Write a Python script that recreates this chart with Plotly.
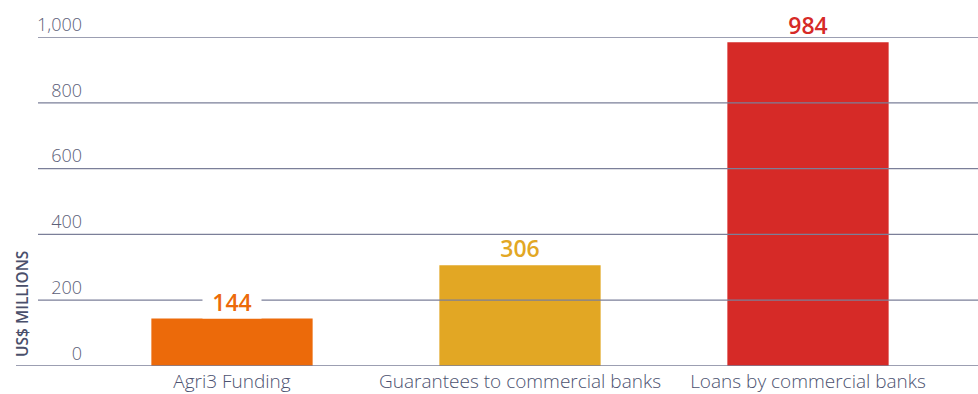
import plotly.graph_objects as go

categories = ["Agri3 Funding", "Guarantees to commercial banks", "Loans by commercial banks"]
values = [144, 306, 984]
bar_colors = ["#EC6A0A", "#E2A724", "#D62A27"]
label_bg = ["white", "rgba(0,0,0,0)", "rgba(0,0,0,0)"]
y_ticks = [0, 200, 400, 600, 800, 1000]
y_title = "US$ MILLIONS"

W, H = 978, 394
ML, MR, MT, MB = 88, 26, 37, 28
pw = W - ML - MR
ph = H - MT - MB

fig = go.Figure()
fig.add_trace(go.Bar(
    x=categories, y=values, marker=dict(color=bar_colors, line=dict(width=0)),
    width=0.56, hoverinfo="skip",
))

grid_color = "#7b7f99"
shapes = []
for t in y_ticks:
    left_px = 16 if t == 0 else 38
    shapes.append(dict(
        type="line", xref="paper", yref="y",
        x0=(left_px - ML) / pw, x1=(W - ML) / pw, y0=t, y1=t,
        line=dict(color=grid_color, width=1.3), layer="above",
    ))

annotations = []
for c, v, col, bg in zip(categories, values, bar_colors, label_bg):
    annotations.append(dict(
        x=c, y=v, xref="x", yref="y", text=str(v), showarrow=False,
        yshift=17, font=dict(family="Open Sans", size=23, color=col, weight=600),
        bgcolor=bg, borderpad=0, width=58, align="center",
        xanchor="center", yanchor="middle",
    ))
annotations.append(dict(
    x=(22 - ML) / pw, y=(H - MB - 304) / ph, xref="paper", yref="paper",
    text=y_title, showarrow=False, textangle=-90,
    xanchor="center", yanchor="middle",
    font=dict(family="Open Sans", size=15.5, color="#4a4f6b", weight=600),
))

fig.update_layout(
    width=W, height=H,
    margin=dict(l=ML, r=MR, t=MT, b=MB, pad=0, autoexpand=False),
    paper_bgcolor="white", plot_bgcolor="white",
    showlegend=False, shapes=shapes, annotations=annotations,
    xaxis=dict(
        range=[-0.5, 2.5], showgrid=False, zeroline=False, showline=False,
        ticks="", automargin=False,
        tickfont=dict(family="Open Sans", size=19, color="#4c5270", weight=300),
        ticklabelstandoff=2,
    ),
    yaxis=dict(
        range=[0, 1000], tickvals=y_ticks, tickformat=",", showgrid=False,
        zeroline=False, showline=False, ticks="", automargin=False,
        ticklabelposition="outside top", ticklabelstandoff=5,
        tickfont=dict(family="Open Sans", size=18, color="#5c6078", weight=300),
    ),
    bargap=0.44,
)

fig.write_html("out.html")
